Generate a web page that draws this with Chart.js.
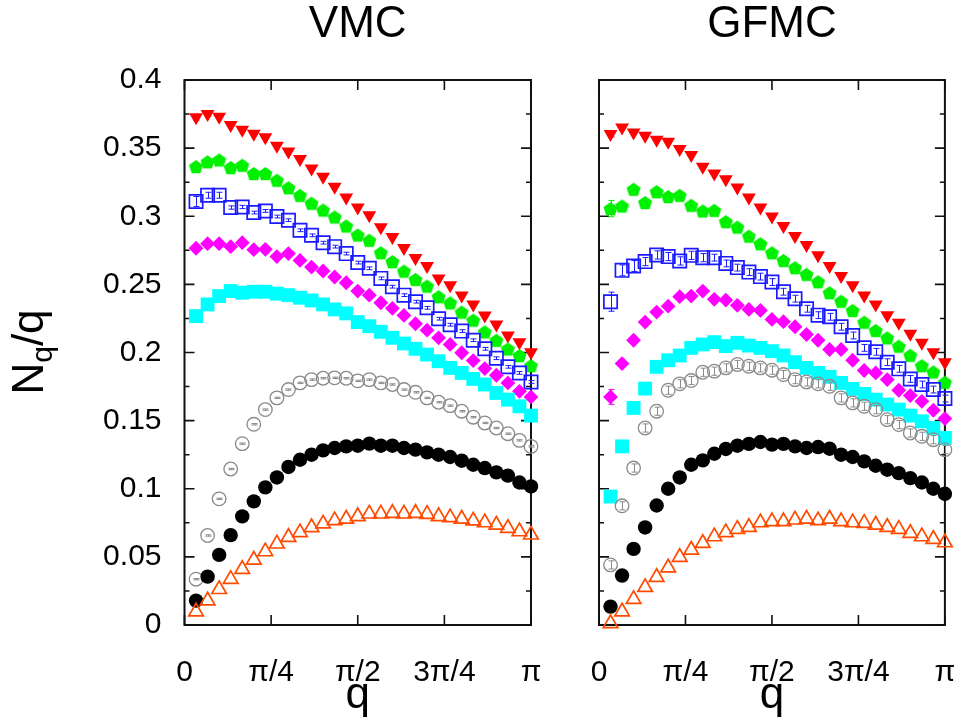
<!DOCTYPE html>
<html><head><meta charset="utf-8">
<script src="https://cdn.jsdelivr.net/npm/chart.js@4/dist/chart.umd.min.js"></script>
<style>
html,body{margin:0;padding:0;background:#fff;}
#wrap{position:relative;width:956px;height:723px;overflow:hidden;}
.pane{position:absolute;top:0;}
</style>
</head><body>
<div id="wrap">
  <div class="pane" style="left:0;width:560px;height:723px"><canvas id="vmc" width="560" height="723"></canvas></div>
  <div class="pane" style="left:560px;width:396px;height:723px"><canvas id="gfmc" width="396" height="723"></canvas></div>
</div>
<script>
// q in units of pi/30
const qIndex = [1,2,3,4,5,6,7,8,9,10,11,12,13,14,15,16,17,18,19,20,21,22,23,24,25,26,27,28,29,30];
const xTickPos = [0, 7.5, 15, 22.5, 30];
const xTickLabels = ['0', 'π/4', 'π/2', '3π/4', 'π'];
const yTickLabels = ['0','0.05','0.1','0.15','0.2','0.25','0.3','0.35','0.4'];
const panelTitles = ['VMC', 'GFMC'];

// VMC panel
const vmcRed     = [0.3726,0.375,0.373,0.367,0.3635,0.3605,0.358,0.3517,0.3475,0.342,0.335,0.329,0.3216,0.3137,0.3064,0.3007,0.292,0.2848,0.2767,0.2693,0.2635,0.2544,0.2493,0.2419,0.2353,0.2272,0.2206,0.2125,0.2076,0.2002];
const vmcGreen   = [0.3365,0.340,0.3414,0.3358,0.3375,0.3314,0.3314,0.3265,0.321,0.3154,0.3096,0.3046,0.2995,0.2929,0.2863,0.2824,0.2733,0.2667,0.2598,0.2537,0.2488,0.241,0.2365,0.2297,0.2238,0.2152,0.209,0.2027,0.1978,0.1904];
const vmcBlue    = [0.3108,0.3154,0.3154,0.3064,0.3068,0.3027,0.3039,0.2998,0.2971,0.2897,0.286,0.2806,0.2777,0.2726,0.266,0.2618,0.2544,0.2483,0.2421,0.2373,0.2328,0.2248,0.2204,0.2157,0.209,0.2027,0.1958,0.1895,0.185,0.1784];
const vmcMagenta = [0.2765,0.2799,0.2799,0.2777,0.2806,0.2755,0.2757,0.2704,0.2726,0.2676,0.2627,0.2598,0.2554,0.2512,0.2451,0.2421,0.2365,0.2324,0.2272,0.2211,0.2164,0.2108,0.2059,0.1998,0.1941,0.1882,0.1833,0.1777,0.1715,0.1674];
const vmcCyan    = [0.2267,0.2353,0.2414,0.2451,0.2439,0.2446,0.2446,0.2432,0.2421,0.2402,0.2382,0.2353,0.2316,0.2287,0.2223,0.2193,0.2152,0.2108,0.2066,0.2027,0.1985,0.1936,0.1887,0.185,0.1806,0.1765,0.1703,0.1654,0.1605,0.1537];
const vmcGray    = [0.0336,0.0657,0.0926,0.1145,0.1331,0.1473,0.1581,0.1667,0.1728,0.1777,0.1801,0.1811,0.1814,0.1811,0.1792,0.1801,0.1777,0.1765,0.1728,0.1708,0.1667,0.1635,0.161,0.1569,0.1525,0.1483,0.1446,0.1404,0.1355,0.1311];
const vmcBlack   = [0.0179,0.0355,0.0515,0.066,0.0797,0.0907,0.101,0.1083,0.116,0.1213,0.125,0.1282,0.1299,0.1311,0.1316,0.1331,0.1316,0.1316,0.1299,0.1287,0.1267,0.125,0.1233,0.1206,0.1176,0.1152,0.112,0.1096,0.1046,0.1017];
const vmcOrange  = [0.0098,0.0179,0.0262,0.0336,0.041,0.0478,0.0539,0.0596,0.0645,0.0679,0.0716,0.0743,0.0767,0.0779,0.0797,0.0816,0.0816,0.0821,0.0816,0.0821,0.0814,0.0797,0.0789,0.0779,0.0765,0.0752,0.0735,0.0711,0.0686,0.0662];
// VMC error bars (only where visible)
const vmcRedErr  = [0.002,0.0015];
const vmcBlueErr = [0.0037,0.0022,0.0022,0.0012,0.0012,0.001,0.001,0.001,0.001,0.001,0.001,0.001,0.001,0.001,0.001,0.001,0.001,0.001,0.001,0.001,0.001,0.001,0.001,0.001,0.001,0.001,0.001,0.001,0.001,0.001];
const vmcGrayErr = [0.0005,0.0005,0.0005,0.0005,0.0005,0.0005,0.0005,0.0005,0.0005,0.0005,0.0005,0.0005,0.0005,0.0005,0.0005,0.0005,0.0005,0.0005,0.0005,0.0005,0.0005,0.0005,0.0005,0.0005,0.0005,0.0005,0.0005,0.0005,0.0005,0.0005];

// GFMC panel
const gfmcRed     = [0.3603,0.3652,0.3615,0.359,0.3561,0.3546,0.3493,0.3449,0.3363,0.3314,0.3272,0.3211,0.3137,0.3064,0.2998,0.2929,0.2855,0.2789,0.2713,0.2635,0.2561,0.2493,0.2419,0.2353,0.2274,0.2218,0.2138,0.2071,0.2002,0.1929];
const gfmcGreen   = [0.3056,0.3076,0.3199,0.3101,0.3181,0.3145,0.3154,0.3081,0.3039,0.3044,0.2961,0.2921,0.2855,0.2799,0.2733,0.2676,0.2623,0.2574,0.252,0.2439,0.2377,0.2309,0.2223,0.2162,0.2108,0.2047,0.198,0.1904,0.1858,0.1782];
const gfmcBlue    = [0.2373,0.2603,0.2635,0.2667,0.2716,0.2704,0.2672,0.2713,0.2696,0.2696,0.2654,0.2623,0.259,0.2557,0.2517,0.2446,0.2395,0.2321,0.2274,0.2262,0.2189,0.2125,0.2034,0.2005,0.1929,0.188,0.1806,0.1765,0.1728,0.1662];
const gfmcMagenta = [0.1674,0.1919,0.209,0.2223,0.2297,0.234,0.241,0.2414,0.2451,0.239,0.2385,0.2346,0.2316,0.2309,0.2243,0.2226,0.2189,0.2132,0.209,0.2022,0.2022,0.1943,0.1868,0.185,0.1801,0.1723,0.1684,0.1642,0.1576,0.1515];
const gfmcCyan    = [0.0943,0.1311,0.1593,0.1735,0.1895,0.1943,0.1978,0.2034,0.2059,0.2076,0.2047,0.2071,0.2051,0.2034,0.201,0.1978,0.1929,0.1887,0.185,0.1821,0.1777,0.1733,0.1696,0.1654,0.1618,0.1581,0.1537,0.1495,0.1446,0.1373];
const gfmcGray    = [0.0441,0.0875,0.1152,0.1446,0.1569,0.1723,0.177,0.1794,0.1855,0.1863,0.1887,0.1912,0.1899,0.1887,0.187,0.1838,0.1801,0.1784,0.177,0.1752,0.1667,0.163,0.1605,0.1581,0.1507,0.1471,0.1409,0.1385,0.136,0.1287];
const gfmcBlack   = [0.0135,0.0363,0.0559,0.0716,0.0877,0.1,0.1083,0.1176,0.1208,0.1257,0.1292,0.1316,0.1329,0.1343,0.1324,0.1329,0.1311,0.1299,0.1306,0.1294,0.125,0.1233,0.1201,0.1169,0.114,0.1115,0.1078,0.1046,0.1,0.0963];
const gfmcOrange  = [0.0012,0.0098,0.0189,0.0277,0.0351,0.0421,0.0498,0.0551,0.0601,0.0649,0.0679,0.0704,0.0718,0.0752,0.076,0.076,0.0772,0.0779,0.0767,0.0779,0.076,0.0752,0.0748,0.0735,0.0718,0.0704,0.0674,0.0649,0.063,0.0605];
// GFMC error bars (only where visible)
const gfmcRedErr     = [0.002];
const gfmcGreenErr   = [0.006];
const gfmcMagentaErr = [0.0055];
const gfmcBlueErr    = [0.007,0.004,0.004,0.003,0.003,0.003,0.003,0.003,0.003,0.0025,0.0025,0.0025,0.0025,0.0025,0.0025,0.0025,0.0025,0.0025,0.0025,0.0025,0.0025,0.0025,0.0025,0.0025,0.0025,0.0025,0.0025,0.0025,0.0025,0.0025];
const gfmcGrayErr    = [0.003,0.003,0.003,0.003,0.003,0.003,0.003,0.003,0.003,0.003,0.003,0.003,0.003,0.003,0.003,0.003,0.003,0.003,0.003,0.003,0.003,0.003,0.003,0.003,0.003,0.003,0.003,0.003,0.003,0.003];

const FONT = "'Liberation Sans', Arial, Helvetica, sans-serif";

function pentagonStyle(color, R) {
  const size = Math.ceil(2 * R + 2);
  const c = document.createElement('canvas');
  c.width = size; c.height = size;
  const g = c.getContext('2d');
  g.fillStyle = color;
  g.beginPath();
  for (let k = 0; k < 5; k++) {
    const a = -Math.PI / 2 + k * 2 * Math.PI / 5;
    const px = size / 2 + R * Math.cos(a), py = size / 2 + 0.8 + R * Math.sin(a);
    if (k) g.lineTo(px, py); else g.moveTo(px, py);
  }
  g.closePath(); g.fill();
  return c;
}
const pent = pentagonStyle('#00f000', 7.4);

// marker styles (first = drawn on top)
const styles = [
  { key: 'orange',  style: 'triangle', r: 8.4, bw: 1.7, fill: 'rgba(0,0,0,0)', stroke: '#ff4a00', rot: 0 },
  { key: 'black',   style: 'circle',   r: 7.2, bw: 0,   fill: '#000000', stroke: '#000000', rot: 0 },
  { key: 'gray',    style: 'circle',   r: 6.8, bw: 1.3, fill: 'rgba(0,0,0,0)', stroke: '#8a8a8a', rot: 0 },
  { key: 'cyan',    style: 'rect',     r: 9.8, bw: 0,   fill: '#00ffff', stroke: '#00ffff', rot: 0 },
  { key: 'magenta', style: 'rectRot',  r: 7.4, bw: 0,   fill: '#ff00ff', stroke: '#ff00ff', rot: 0 },
  { key: 'blue',    style: 'rect',     r: 9.4, bw: 1.7, fill: 'rgba(0,0,0,0)', stroke: '#1a1aff', rot: 0 },
  { key: 'green',   style: pent,       r: 7.4, bw: 0,   fill: '#00f000', stroke: '#00f000', rot: 0 },
  { key: 'red',     style: 'triangle', r: 8.0, bw: 0,   fill: '#ff0000', stroke: '#ff0000', rot: 180 }
];

const vmcSeries  = { red: vmcRed, green: vmcGreen, blue: vmcBlue, magenta: vmcMagenta, cyan: vmcCyan, gray: vmcGray, black: vmcBlack, orange: vmcOrange };
const gfmcSeries = { red: gfmcRed, green: gfmcGreen, blue: gfmcBlue, magenta: gfmcMagenta, cyan: gfmcCyan, gray: gfmcGray, black: gfmcBlack, orange: gfmcOrange };
const vmcErrors  = { red: vmcRedErr, blue: vmcBlueErr, gray: vmcGrayErr };
const gfmcErrors = { red: gfmcRedErr, green: gfmcGreenErr, magenta: gfmcMagentaErr, blue: gfmcBlueErr, gray: gfmcGrayErr };

const framePlugin = {
  id: 'frame',
  beforeDatasetsDraw(chart) {
    const { ctx, chartArea: a, scales: { x, y } } = chart;
    ctx.save();
    ctx.strokeStyle = '#111';
    ctx.lineWidth = 2;
    ctx.strokeRect(a.left, a.top, a.right - a.left, a.bottom - a.top);
    ctx.lineWidth = 1.6;
    ctx.beginPath();
    for (let k = 0; k <= 16; k++) {
      const py = y.getPixelForValue(k * 0.025);
      const len = (k % 2 === 0) ? 10 : 5;
      ctx.moveTo(a.left, py); ctx.lineTo(a.left + len, py);
      ctx.moveTo(a.right, py); ctx.lineTo(a.right - len, py);
    }
    xTickPos.forEach(v => {
      const px = x.getPixelForValue(v);
      ctx.moveTo(px, a.bottom); ctx.lineTo(px, a.bottom - 10);
      ctx.moveTo(px, a.top); ctx.lineTo(px, a.top + 10);
    });
    ctx.stroke();
    ctx.restore();
  },
  afterDatasetsDraw(chart, args, opts) {
    const { ctx, scales: { x, y } } = chart;
    ctx.save();
    ctx.lineWidth = 1;
    chart.data.datasets.forEach(ds => {
      const errs = opts.errors[ds.label];
      if (!errs) return;
      ctx.strokeStyle = ds.errColor;
      ctx.beginPath();
      errs.forEach((e, j) => {
        const pt = ds.data[j];
        const px = Math.round(x.getPixelForValue(pt.x)) + 0.5;
        const y1 = y.getPixelForValue(pt.y - e), y2 = y.getPixelForValue(pt.y + e);
        ctx.moveTo(px, y1); ctx.lineTo(px, y2);
        ctx.moveTo(px - 3, y1); ctx.lineTo(px + 3, y1);
        ctx.moveTo(px - 3, y2); ctx.lineTo(px + 3, y2);
      });
      ctx.stroke();
    });
    ctx.restore();
  },
  afterDraw(chart, args, opts) {
    const { ctx, chartArea: a } = chart;
    ctx.save();
    ctx.fillStyle = '#000';
    ctx.textAlign = 'center';
    ctx.textBaseline = 'middle';
    ctx.font = '44px ' + FONT;
    ctx.fillText(opts.title, (a.left + a.right) / 2, 25);
    if (opts.yLabel) {
      ctx.translate(43, 352);
      ctx.rotate(-Math.PI / 2);
      ctx.textBaseline = 'alphabetic';
      ctx.textAlign = 'left';
      const big = '44px ' + FONT, small = '30px ' + FONT;
      ctx.font = big; const wN = ctx.measureText('N').width; const wS = ctx.measureText('/q').width;
      ctx.font = small; const wq = ctx.measureText('q').width;
      let cx = -(wN + wq + wS) / 2;
      ctx.font = big; ctx.fillText('N', cx, 0); cx += wN;
      ctx.font = small; ctx.fillText('q', cx, 9); cx += wq;
      ctx.font = big; ctx.fillText('/q', cx, 0);
    }
    ctx.restore();
  }
};

function makeChart(canvasId, title, series, errors, showY, yWidth, padRight) {
  const datasets = styles.map(st => ({
    label: st.key,
    errColor: st.stroke,
    data: qIndex.map((n, j) => ({ x: n, y: series[st.key][j] })),
    showLine: false,
    clip: false,
    pointStyle: st.style,
    pointRadius: st.r,
    pointHoverRadius: st.r,
    pointBorderWidth: st.bw,
    pointHoverBorderWidth: st.bw,
    pointBackgroundColor: st.fill,
    pointBorderColor: st.stroke,
    pointRotation: st.rot
  }));
  return new Chart(document.getElementById(canvasId), {
    type: 'scatter',
    data: { datasets },
    plugins: [framePlugin],
    options: {
      responsive: false,
      animation: false,
      events: [],
      layout: { padding: { left: 0, right: padRight, top: 80, bottom: 0 } },
      plugins: {
        legend: { display: false },
        tooltip: { enabled: false },
        title: { display: false },
        frame: { title: title, yLabel: showY, errors: errors }
      },
      scales: {
        x: {
          type: 'linear', min: 0, max: 30,
          afterBuildTicks: s => { s.ticks = xTickPos.map(v => ({ value: v })); },
          afterFit: s => { s.height = 98; },
          grid: { display: true, drawOnChartArea: false, drawTicks: true, tickLength: 30, tickColor: 'rgba(0,0,0,0)' },
          border: { display: false },
          ticks: {
            autoSkip: false, maxRotation: 0, padding: 0, color: '#000',
            font: { size: 30, family: FONT },
            callback: (v, i) => xTickLabels[i]
          },
          title: { display: true, text: 'q', color: '#000', font: { size: 44, family: FONT }, padding: { top: 0, bottom: 1 } }
        },
        y: {
          type: 'linear', min: 0, max: 0.4,
          afterFit: s => { s.width = yWidth; },
          grid: { display: false, drawTicks: false },
          border: { display: false },
          ticks: {
            display: showY, stepSize: 0.025, padding: 23, color: '#000',
            font: { size: 30, family: FONT },
            callback: v => { const k = Math.round(v * 40); return k % 2 === 0 ? yTickLabels[k / 2] : ''; }
          }
        }
      }
    }
  });
}

makeChart('vmc', panelTitles[0], vmcSeries, vmcErrors, true, 184.5, 29);
makeChart('gfmc', panelTitles[1], gfmcSeries, gfmcErrors, false, 39, 11);
</script>
</body></html>
